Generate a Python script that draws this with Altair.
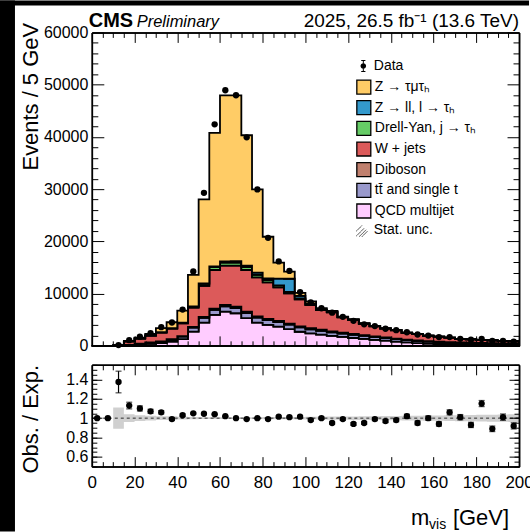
import math
import altair as alt
import pandas as pd

FONT = "Liberation Sans"

# ---------------- data (5 GeV bins from 0 to 200 GeV) ----------------
bin_lo = list(range(0, 200, 5))
x_max = 200

obs = [0, 0, 151, 1079, 1749, 2450, 3583, 4475, 6953, 14249, 29291, 42401, 48929, 47970,
       39917, 29940, 20681, 16159, 14342, 10302, 8330, 7200, 6356, 5554, 4794, 4114, 3782,
       3279, 2999, 2601, 2176, 1970, 1673, 1685, 1353, 1181, 1323, 961, 970, 819]

qcd = [0, 0, 10, 130, 250, 380, 510, 830, 1270, 2740, 4460, 5920, 6560, 6240, 5290, 4460,
       4010, 3690, 3200, 2700, 2400, 2150, 1900, 1700, 1500, 1320, 1150, 1000, 800, 650,
       520, 430, 350, 300, 260, 220, 200, 180, 160, 150]
ttbar = [0, 0, 10, 60, 150, 230, 300, 380, 500, 750, 900, 950, 1000, 1000, 980, 950, 920,
         880, 850, 820, 780, 740, 700, 660, 620, 580, 540, 500, 470, 440, 410, 380, 350,
         330, 310, 290, 270, 250, 235, 220]
diboson = [0, 0, 2, 15, 25, 35, 50, 60, 80, 120, 180, 230, 260, 270, 260, 250, 240, 230,
           220, 210, 200, 190, 180, 170, 160, 150, 140, 130, 120, 115, 110, 100, 95, 90,
           85, 80, 75, 70, 65, 60]
wjets = [0, 0, 78, 645, 975, 1305, 1690, 2030, 2480, 3720, 5930, 7420, 7530, 7840, 7990,
         7460, 7000, 6410, 5800, 5170, 4420, 3750, 3620, 2920, 2670, 2170, 1900, 1670, 1600,
         1295, 1210, 1020, 955, 845, 665, 660, 590, 565, 488, 450]
zj = [0, 0, 0, 10, 20, 30, 40, 60, 90, 180, 400, 550, 600, 600, 550, 480, 420, 350, 280,
      200, 150, 110, 90, 70, 60, 50, 40, 35, 30, 25, 20, 15, 12, 10, 8, 7, 6, 5, 4, 3]
zl = [0, 0, 0, 5, 10, 15, 20, 30, 40, 60, 100, 150, 200, 250, 300, 400, 300, 1300, 2500,
      450, 150, 60, 40, 30, 25, 20, 15, 12, 10, 8, 7, 6, 5, 4, 4, 3, 3, 3, 2, 2]
ztt = [0, 0, 10, 90, 160, 295, 770, 1130, 2290, 6000, 16060, 25550, 31820, 31770, 24950,
       15940, 8000, 3060, 1350, 600, 400, 200, 160, 60, 65, 40, 35, 33, 30, 17, 13, 19, 13,
       11, 8, 10, 6, 7, 6, 5]

# relative MC statistical uncertainty (no band below 10 GeV)
stat_unc = [None, None, 0.11, 0.04, 0.03, 0.025, 0.02, 0.02, 0.015, 0.012, 0.01, 0.01,
            0.01, 0.01, 0.01, 0.01, 0.012, 0.012, 0.012, 0.013, 0.014, 0.015, 0.016, 0.017,
            0.018, 0.019, 0.02, 0.021, 0.022, 0.024, 0.025, 0.027, 0.028, 0.03, 0.031,
            0.033, 0.035, 0.036, 0.038, 0.04]

# processes, bottom to top of the stack
proc_names = ["QCD multijet", "tt\u0304 and single t", "Diboson", "W + jets",
              "Drell-Yan, j  \u2192 \u03c4\u2095", "Z \u2192 ll, l \u2192 \u03c4\u2095",
              "Z \u2192 \u03c4\u03bc\u03c4\u2095"]
proc_colors = ["#ffccff", "#9999cc", "#c0806e", "#dc5a5a", "#66cc66", "#3399cc", "#ffcc66"]
proc_vals = [qcd, ttbar, diboson, wjets, zj, zl, ztt]

x_major_ticks = list(range(0, 201, 20))
x_minor_ticks = [v for v in range(0, 201, 5) if v % 20]
y_major_ticks = list(range(0, 60001, 10000))
y_minor_ticks = [v for v in range(0, 60001, 2000) if v % 10000]
r_major_ticks = [0.6, 0.8, 1.0, 1.2, 1.4]
r_minor_ticks = [round(0.5 + 0.05 * i, 2) for i in range(22)]

# ---------------- tables ----------------
rows = []
for k, (name, vals) in enumerate(zip(proc_names, proc_vals)):
    for lo, v in zip(bin_lo, vals):
        rows.append({"x": lo, "n": v, "proc": name, "ord": k})
    rows.append({"x": x_max, "n": vals[-1], "proc": name, "ord": k})
stack_df = pd.DataFrame(rows)

total = [sum(v[i] for v in proc_vals) for i in range(len(bin_lo))]


def safe_ratio(num, den):
    return num / den if den > 0 else 1.0


pts_df = pd.DataFrame({
    "xc": [lo + 2.5 for lo in bin_lo],
    "obs": obs,
    "elo": [o - math.sqrt(o) for o in obs],
    "ehi": [o + math.sqrt(o) for o in obs],
    "ratio": [safe_ratio(o, t) for o, t in zip(obs, total)],
    "rlo": [safe_ratio(o - math.sqrt(o), t) for o, t in zip(obs, total)],
    "rhi": [safe_ratio(o + math.sqrt(o), t) for o, t in zip(obs, total)],
})
main_pts_df = pts_df[pts_df["obs"] > 0]

band_rows = []
for lo, u in zip(bin_lo, stat_unc):
    if u is not None:
        band_rows.append({"x": lo, "lo": 1 - u, "hi": 1 + u})
band_rows.append({"x": x_max, "lo": 1 - stat_unc[-1], "hi": 1 + stat_unc[-1]})
band_df = pd.DataFrame(band_rows)

# ---------------- scales / axes ----------------
W, H1, H2 = 428, 314, 102
xscale = alt.Scale(domain=[0, 200], nice=False, zero=False)
yscale = alt.Scale(domain=[0, 60000], nice=False, zero=False)
rscale = alt.Scale(domain=[0.5, 1.55], nice=False, zero=False)

base_axis = dict(domainColor="black", domainWidth=1.5, ticks=True, tickColor="black",
                 tickWidth=1, grid=False, zindex=1, labelOverlap=False, labelFlush=False,
                 labelFont=FONT, labelColor="black", titleFont=FONT, titleColor="black",
                 titleFontWeight="normal")


def tick_axis(orient, values, length, labels=False, **kw):
    """Axis whose ticks point into the plot (negative tick length)."""
    args = dict(base_axis)
    args.update(kw)
    if "title" not in args:
        args["title"] = None
    return alt.Axis(orient=orient, values=values, labels=labels, domain=True,
                    tickSize={"expr": str(-length)}, **args)


def frame_layer(fdf, ys, xax, yax):
    return alt.Chart(fdf).mark_point(opacity=0).encode(
        x=alt.X("fx:Q", scale=xscale, axis=xax),
        y=alt.Y("fy:Q", scale=ys, axis=yax))


# ---------------- legends ----------------
data_path = ("M-0.07,-0.8L0.07,-0.8L0.07,0.8L-0.07,0.8Z"
             "M-0.3,-0.86L0.3,-0.86L0.3,-0.72L-0.3,-0.72Z"
             "M-0.3,0.72L0.3,0.72L0.3,0.86L-0.3,0.86Z"
             "M-0.4,0A0.4,0.4,0,1,1,0.4,0A0.4,0.4,0,1,1,-0.4,0Z")
hatch_path = "M-1,0.2L-0.2,-0.6M-1,0.9L0.1,-0.2M-0.6,1L0.4,0M-0.2,1L0.6,0.2"
LEG_X = 264.5
leg_common = dict(title=None, orient="none", legendX=LEG_X, padding=0, symbolSize=196,
                  symbolOpacity=1, labelFont=FONT, labelFontSize=14, labelColor="black",
                  labelOffset=3, rowPadding=0.7)

color_legend = alt.Legend(legendY=46.7, symbolType="square", symbolStrokeColor="black",
                          symbolStrokeWidth=1.3, **leg_common)
data_legend = alt.Legend(legendY=26.2, symbolType=data_path, symbolFillColor="black",
                         symbolStrokeColor="black", symbolStrokeWidth=0.5, **leg_common)
unc_legend = alt.Legend(legendY=190.2, symbolType=hatch_path, symbolFillColor="transparent",
                        symbolStrokeColor="#444444", symbolStrokeWidth=1, symbolDash=[1, 0],
                        **leg_common)

# ---------------- top panel ----------------
one = pd.DataFrame({"k": [0]})
strip_left = alt.Chart(one).mark_rect(color="black").encode(
    x=alt.value(-92), x2=alt.value(-77), y=alt.value(-32), y2=alt.value(500))
strip_top = alt.Chart(one).mark_rect(color="black").encode(
    x=alt.value(-92), x2=alt.value(438), y=alt.value(-32), y2=alt.value(-27))

stack = alt.Chart(stack_df).mark_area(
    interpolate="step-after", stroke="black", strokeWidth=1.8, opacity=1
).encode(
    x=alt.X("x:Q", scale=xscale, axis=None),
    y=alt.Y("n:Q", stack="zero", scale=yscale, axis=None),
    color=alt.Color("proc:N", scale=alt.Scale(domain=proc_names[::-1], range=proc_colors[::-1]),
                    legend=color_legend),
    order=alt.Order("ord:Q"),
)

err_main = alt.Chart(main_pts_df).mark_rule(color="black", strokeWidth=1.2).encode(
    x=alt.X("xc:Q", scale=xscale, axis=None),
    y=alt.Y("elo:Q", scale=yscale, axis=None), y2="ehi:Q")
pts_main = alt.Chart(main_pts_df).mark_circle(color="black", size=40, opacity=1).encode(
    x=alt.X("xc:Q", scale=xscale, axis=None),
    y=alt.Y("obs:Q", scale=yscale, axis=None))

leg_data_layer = alt.Chart(pd.DataFrame({"lbl": ["Data"], "fx": [0], "fy": [0]})).mark_point(
    opacity=0, filled=True, color="black").encode(
    x=alt.X("fx:Q", scale=xscale, axis=None), y=alt.Y("fy:Q", scale=yscale, axis=None),
    shape=alt.Shape("lbl:N", scale=alt.Scale(domain=["Data"], range=[data_path]),
                    legend=data_legend))
leg_unc_layer = alt.Chart(pd.DataFrame({"lbl": ["Stat. unc."], "fx": [0], "fy": [0]})).mark_point(
    opacity=0).encode(
    x=alt.X("fx:Q", scale=xscale, axis=None), y=alt.Y("fy:Q", scale=yscale, axis=None),
    strokeDash=alt.StrokeDash("lbl:N", scale=alt.Scale(domain=["Stat. unc."], range=[[1, 0]]),
                              legend=unc_legend))

hdr_cms = alt.Chart(pd.DataFrame({"t": ["CMS"]})).mark_text(
    font=FONT, fontSize=20, fontWeight="bold", align="left", baseline="alphabetic", color="black"
).encode(text="t:N", x=alt.value(-3), y=alt.value(-5.5))
hdr_pre = alt.Chart(pd.DataFrame({"t": ["Preliminary"]})).mark_text(
    font=FONT, fontSize=16.5, fontStyle="italic", align="left", baseline="alphabetic", color="black"
).encode(text="t:N", x=alt.value(45), y=alt.value(-5.5))
hdr_lumi = alt.Chart(pd.DataFrame({"t": ["2025, 26.5 fb\u207b\u00b9 (13.6 TeV)"]})).mark_text(
    font=FONT, fontSize=19, align="right", baseline="alphabetic", color="black"
).encode(text="t:N", x=alt.value(428), y=alt.value(-5))

fdf_top = pd.DataFrame({"fx": [0, 200], "fy": [0, 60000]})
f1 = frame_layer(fdf_top, yscale,
                 tick_axis("bottom", x_major_ticks, 10),
                 tick_axis("left", y_major_ticks, 12, labels=True, labelFontSize=16,
                           labelPadding=16, format="d",
                           title="Events / 5 GeV", titleFontSize=22, titleAngle=-90,
                           titleAlign="right", titleBaseline="alphabetic", titleX=-54,
                           titleY=-10))
f2 = frame_layer(fdf_top, yscale, tick_axis("bottom", x_minor_ticks, 5),
                 tick_axis("left", y_minor_ticks, 6))
f3 = frame_layer(fdf_top, yscale, tick_axis("top", x_major_ticks, 10),
                 tick_axis("right", y_major_ticks, 12))
f4 = frame_layer(fdf_top, yscale, tick_axis("top", x_minor_ticks, 5),
                 tick_axis("right", y_minor_ticks, 6))

top = alt.layer(strip_left, strip_top, stack, err_main, pts_main, leg_data_layer, leg_unc_layer,
                hdr_cms, hdr_pre, hdr_lumi, f1, f2, f3, f4
                ).resolve_axis(x="independent", y="independent").properties(width=W, height=H1)

# ---------------- ratio panel ----------------
band = alt.Chart(band_df).mark_area(interpolate="step-after", color="#777777", opacity=0.35).encode(
    x=alt.X("x:Q", scale=xscale, axis=None),
    y=alt.Y("lo:Q", scale=rscale, axis=None), y2="hi:Q")
ref = alt.Chart(pd.DataFrame({"r": [1.0]})).mark_rule(
    color="black", strokeWidth=0.8, strokeDash=[3, 3]).encode(
    y=alt.Y("r:Q", scale=rscale, axis=None))
err_r = alt.Chart(pts_df).mark_rule(color="black", strokeWidth=1.2).encode(
    x=alt.X("xc:Q", scale=xscale, axis=None),
    y=alt.Y("rlo:Q", scale=rscale, axis=None), y2="rhi:Q")
cap_lo = alt.Chart(pts_df).mark_tick(orient="horizontal", color="black", size=6, thickness=1.2).encode(
    x=alt.X("xc:Q", scale=xscale, axis=None), y=alt.Y("rlo:Q", scale=rscale, axis=None))
cap_hi = alt.Chart(pts_df).mark_tick(orient="horizontal", color="black", size=6, thickness=1.2).encode(
    x=alt.X("xc:Q", scale=xscale, axis=None), y=alt.Y("rhi:Q", scale=rscale, axis=None))
pts_r = alt.Chart(pts_df).mark_circle(color="black", size=40, opacity=1).encode(
    x=alt.X("xc:Q", scale=xscale, axis=None), y=alt.Y("ratio:Q", scale=rscale, axis=None))

xt_m = alt.Chart(pd.DataFrame({"t": ["m"]})).mark_text(
    font=FONT, fontSize=22, align="right", baseline="alphabetic", color="black"
).encode(text="t:N", x=alt.value(338), y=alt.value(160.5))
xt_vis = alt.Chart(pd.DataFrame({"t": ["vis"]})).mark_text(
    font=FONT, fontSize=14, align="right", baseline="alphabetic", color="black"
).encode(text="t:N", x=alt.value(355), y=alt.value(164.5))
xt_gev = alt.Chart(pd.DataFrame({"t": ["[GeV]"]})).mark_text(
    font=FONT, fontSize=22, align="right", baseline="alphabetic", color="black"
).encode(text="t:N", x=alt.value(418), y=alt.value(160.5))

fdf_bot = pd.DataFrame({"fx": [0, 200], "fy": [0.5, 1.55]})
g1 = frame_layer(fdf_bot, rscale,
                 tick_axis("bottom", x_major_ticks, 10, labels=True, labelFontSize=17,
                           labelPadding=18, format="d"),
                 tick_axis("left", r_major_ticks, 10, labels=True, labelFontSize=16,
                           labelPadding=14, format="~g",
                           title="Obs. / Exp.", titleFontSize=22, titleAngle=-90,
                           titleAlign="center", titleBaseline="alphabetic", titleX=-54,
                           titleY=54))
g2 = frame_layer(fdf_bot, rscale, tick_axis("bottom", x_minor_ticks, 5),
                 tick_axis("left", r_minor_ticks, 5))
g3 = frame_layer(fdf_bot, rscale, tick_axis("top", x_major_ticks, 10),
                 tick_axis("right", r_major_ticks, 10))
g4 = frame_layer(fdf_bot, rscale, tick_axis("top", x_minor_ticks, 5),
                 tick_axis("right", r_minor_ticks, 5))

bottom = alt.layer(band, ref, err_r, cap_lo, cap_hi, pts_r, xt_m, xt_vis, xt_gev,
                   g1, g2, g3, g4).resolve_axis(x="independent", y="independent").properties(
    width=W, height=H2)

chart = alt.vconcat(top, bottom, spacing=19, bounds="flush").properties(
    background="white", padding={"left": 0, "top": 0, "right": -4, "bottom": 0}
).configure_view(stroke=None)

chart.save("out.html", embed_options={"renderer": "svg", "actions": False})
